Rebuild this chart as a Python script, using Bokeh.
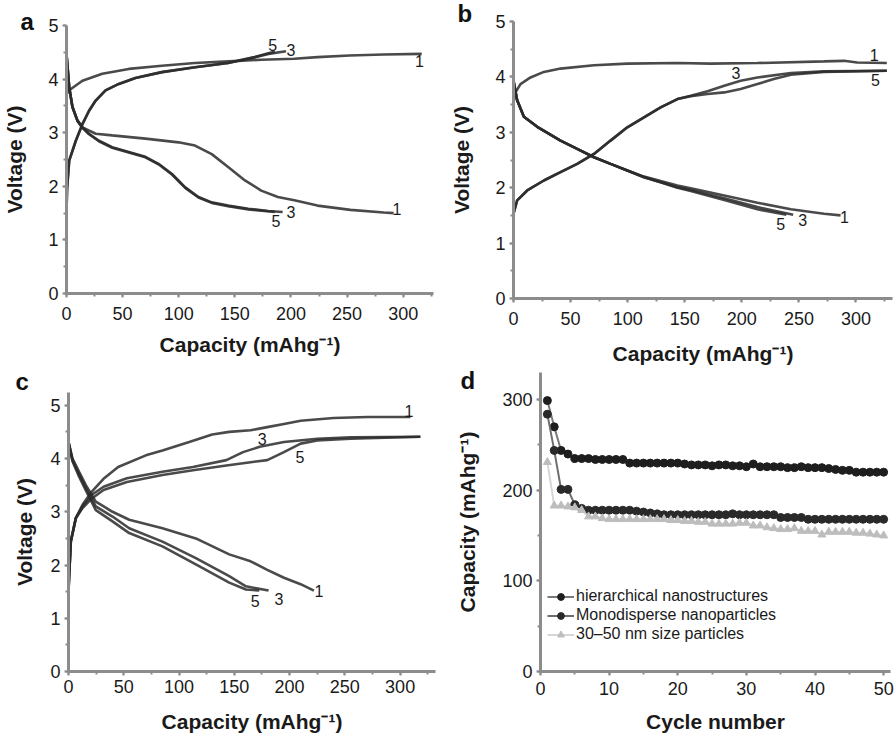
from bokeh.plotting import figure
from bokeh.models import Range1d, Legend, LegendItem, SingleIntervalTicker, Title
from bokeh.layouts import column, row
from bokeh.embed import file_html
from bokeh.resources import INLINE
from bokeh.core.properties import value

FONT = "Liberation Sans"
LINE = "#2a2a2a"

# ---------------- Panel a ----------------
a_ch1_x = [0, 3, 14.2, 31.9, 55.5, 85, 114.5, 144, 173.5, 203, 223.6, 252, 282.6, 316.5]
a_ch1_y = [3.72, 3.8, 3.97, 4.1, 4.19, 4.25, 4.3, 4.33, 4.36, 4.38, 4.41, 4.44, 4.46, 4.47]
a_ch3_x = [0, 0.5, 2.4, 8.3, 14.2, 20.1, 26, 34.8, 46.6, 61.4, 85, 114.5, 144, 156, 168, 180, 195.6]
a_ch3_y = [1.5, 1.95, 2.48, 2.85, 3.16, 3.41, 3.6, 3.79, 3.91, 4.02, 4.13, 4.22, 4.3, 4.35, 4.41, 4.47, 4.52]
a_ch5_x = [0, 0.5, 2.4, 8.3, 14.2, 20.1, 26, 34.8, 46.6, 61.4, 85, 114.5, 144, 156, 168, 179.7, 185.6]
a_ch5_y = [1.5, 1.95, 2.48, 2.85, 3.16, 3.41, 3.6, 3.79, 3.91, 4.02, 4.13, 4.22, 4.3, 4.36, 4.41, 4.48, 4.51]
a_dc1_x = [0, 2.4, 5.3, 9.7, 14.2, 26, 40.7, 70.3, 99.8, 114.5, 129.4, 144, 159, 173.5, 188.3, 203, 223.6, 253, 282.6, 291.5]
a_dc1_y = [4.47, 3.85, 3.48, 3.23, 3.1, 2.98, 2.95, 2.89, 2.82, 2.76, 2.6, 2.36, 2.11, 1.92, 1.8, 1.74, 1.64, 1.56, 1.51, 1.5]
a_dc3_x = [0, 2.4, 5.3, 9.7, 14.2, 20.1, 28.9, 40.7, 55.5, 70.3, 82, 94, 105.8, 117.6, 129.4, 144, 162, 179.7, 192.6]
a_dc3_y = [4.47, 3.85, 3.48, 3.23, 3.1, 2.98, 2.85, 2.73, 2.64, 2.55, 2.42, 2.23, 1.98, 1.8, 1.7, 1.64, 1.58, 1.54, 1.52]
a_dc5_x = [0, 2.4, 5.3, 9.7, 14.2, 20.1, 28.9, 40.7, 55.5, 70.3, 82, 94, 105.8, 117.6, 129.4, 144, 162, 185.6]
a_dc5_y = [4.47, 3.85, 3.48, 3.22, 3.09, 2.97, 2.84, 2.72, 2.63, 2.54, 2.41, 2.22, 1.97, 1.79, 1.69, 1.63, 1.57, 1.52]
a_lab_text = ["5", "3", "1", "3", "5", "1"]
a_lab_x = [183.8, 200, 314.4, 200, 186.7, 294.4]
a_lab_y = [4.63, 4.55, 4.33, 1.52, 1.36, 1.58]

# ---------------- Panel b ----------------
b_ch1_x = [0, 1.75, 6.1, 14.9, 26.6, 41.2, 70.5, 99.7, 143.6, 172.8, 213.7, 272, 289.5, 301, 327]
b_ch1_y = [3.55, 3.72, 3.87, 3.99, 4.09, 4.15, 4.21, 4.24, 4.25, 4.24, 4.25, 4.28, 4.29, 4.26, 4.25]
b_ch3_x = [0, 3.2, 12, 26.6, 41.2, 55.8, 70.5, 85, 99.7, 114.3, 128.9, 143.6, 155.3, 170, 184.6, 199, 213.7, 243, 272, 327]
b_ch3_y = [1.53, 1.77, 1.95, 2.13, 2.28, 2.43, 2.61, 2.85, 3.09, 3.27, 3.45, 3.6, 3.66, 3.74, 3.84, 3.93, 3.99, 4.07, 4.1, 4.11]
b_ch5_x = [0, 3.2, 12, 26.6, 41.2, 55.8, 70.5, 85, 99.7, 114.3, 128.9, 143.6, 155.3, 170, 184.6, 199, 213.7, 228, 243, 272, 327]
b_ch5_y = [1.53, 1.77, 1.95, 2.13, 2.28, 2.43, 2.61, 2.85, 3.09, 3.27, 3.45, 3.6, 3.65, 3.69, 3.72, 3.78, 3.87, 3.96, 4.04, 4.09, 4.11]
b_dc1_x = [0, 3.2, 9.1, 20.8, 41.2, 55.8, 70.5, 85, 99.7, 114.3, 128.9, 143.6, 155.3, 184.6, 213.7, 243, 272, 286.5]
b_dc1_y = [3.93, 3.58, 3.28, 3.1, 2.85, 2.7, 2.55, 2.43, 2.31, 2.2, 2.12, 2.04, 1.99, 1.86, 1.73, 1.61, 1.53, 1.5]
b_dc3_x = [0, 3.2, 9.1, 20.8, 41.2, 55.8, 70.5, 85, 99.7, 114.3, 128.9, 143.6, 155.3, 184.6, 213.7, 245]
b_dc3_y = [3.93, 3.58, 3.28, 3.1, 2.85, 2.7, 2.55, 2.43, 2.31, 2.19, 2.1, 2.01, 1.96, 1.81, 1.65, 1.51]
b_dc5_x = [0, 3.2, 9.1, 20.8, 41.2, 55.8, 70.5, 85, 99.7, 114.3, 128.9, 143.6, 155.3, 184.6, 213.7, 239]
b_dc5_y = [3.93, 3.58, 3.28, 3.1, 2.85, 2.7, 2.55, 2.43, 2.31, 2.19, 2.1, 2.0, 1.94, 1.78, 1.61, 1.51]
b_lab_text = ["1", "3", "5", "5", "3", "1"]
b_lab_x = [316, 194.8, 317, 234, 253.3, 290]
b_lab_y = [4.4, 4.07, 3.95, 1.35, 1.41, 1.47]

# ---------------- Panel c ----------------
c_ch1_x = [0, 0.5, 2.1, 6.6, 12.7, 21.1, 31.7, 44.9, 70, 85, 109.2, 130, 145.4, 164.7, 179.8, 194.9, 210, 240, 270.5, 309.4]
c_ch1_y = [1.5, 1.76, 2.44, 2.88, 3.13, 3.38, 3.62, 3.84, 4.06, 4.15, 4.31, 4.45, 4.5, 4.53, 4.59, 4.65, 4.71, 4.76, 4.78, 4.78]
c_ch3_x = [0, 0.5, 2.1, 6.6, 12.7, 21.1, 31.7, 52.8, 85, 112.6, 142.8, 157.9, 173, 194.9, 225, 255.1, 318.3]
c_ch3_y = [1.5, 1.76, 2.44, 2.88, 3.1, 3.32, 3.47, 3.63, 3.75, 3.84, 3.97, 4.12, 4.22, 4.31, 4.37, 4.4, 4.41]
c_ch5_x = [0, 0.5, 2.1, 6.6, 12.7, 21.1, 31.7, 52.8, 85, 112.6, 142.8, 164.7, 179.8, 194.9, 210, 225, 255, 318.3]
c_ch5_y = [1.5, 1.76, 2.44, 2.88, 3.07, 3.25, 3.41, 3.56, 3.69, 3.78, 3.87, 3.93, 3.97, 4.12, 4.28, 4.34, 4.37, 4.41]
c_dc1_x = [0, 3.6, 9.6, 15.7, 24.7, 39.8, 54.9, 85, 115.2, 145.4, 164.7, 179.8, 194.9, 210, 222]
c_dc1_y = [4.31, 4.0, 3.75, 3.5, 3.19, 3.0, 2.85, 2.69, 2.5, 2.2, 2.07, 1.91, 1.76, 1.64, 1.52]
c_dc3_x = [0, 3.6, 9.6, 15.7, 24.7, 39.8, 54.9, 85, 115.2, 145.4, 160.5, 181]
c_dc3_y = [4.31, 3.97, 3.7, 3.45, 3.1, 2.91, 2.69, 2.44, 2.13, 1.79, 1.6, 1.52]
c_dc5_x = [0, 3.6, 9.6, 15.7, 24.7, 39.8, 54.9, 85, 115.2, 145.4, 160.5, 172.6]
c_dc5_y = [4.31, 3.95, 3.66, 3.4, 3.03, 2.82, 2.6, 2.35, 2.01, 1.67, 1.54, 1.52]
c_lab_text = ["1", "3", "5", "1", "3", "5"]
c_lab_x = [307.9, 175.3, 209.3, 226.5, 190.3, 169]
c_lab_y = [4.9, 4.37, 4.03, 1.52, 1.36, 1.32]

# ---------------- Panel d ----------------
cycles = list(range(1, 51))
hier = [299, 270, 244, 240, 235, 235, 235, 234, 234, 234,
        234, 234, 230, 230, 230, 230, 230, 230, 230, 230,
        229, 228, 228, 228, 227, 228, 228, 227, 227, 226,
        229, 226, 226, 226, 226, 225, 225, 226, 225, 225,
        225, 224, 223, 222, 222, 220, 220, 220, 220, 220]
mono = [284, 244, 201, 201, 184, 180, 178, 178, 178, 178,
        178, 178, 178, 177, 176, 175, 174, 173, 173, 173,
        173, 173, 173, 173, 173, 173, 173, 174, 173, 173,
        173, 173, 173, 173, 170, 170, 170, 170, 168, 168,
        168, 168, 168, 168, 168, 168, 168, 168, 168, 168]
small = [231, 183, 183, 182, 181, 178, 171, 171, 169, 168,
         168, 168, 168, 168, 168, 168, 168, 168, 167, 167,
         166, 166, 165, 165, 163, 163, 163, 163, 164, 164,
         161, 161, 159, 158, 157, 157, 158, 155, 155, 155,
         151, 154, 154, 154, 154, 153, 153, 152, 151, 150]
d_names = ["hierarchical nanostructures", "Monodisperse nanoparticles", "30\u201350 nm size particles"]

XLAB = "Capacity (mAhg\u207b\u00b9)"


def make_fig(w, h, left, right, top, bottom, xr, yr, xlabel, ylabel, xstep, ystep,
             xlstand=4, xstand=10, ystand=19):
    p = figure(width=w, height=h, output_backend="svg", toolbar_location=None,
               x_range=Range1d(*xr), y_range=Range1d(*yr),
               min_border_left=left, min_border_right=right,
               min_border_top=top, min_border_bottom=bottom)
    p.outline_line_color = None
    p.grid.visible = False
    p.background_fill_color = "white"
    p.border_fill_color = "white"
    p.xaxis.ticker = SingleIntervalTicker(interval=xstep, num_minor_ticks=2)
    p.yaxis.ticker = SingleIntervalTicker(interval=ystep, num_minor_ticks=2)
    for ax in (p.xaxis[0], p.yaxis[0]):
        ax.axis_line_color = "#8c8c8c"
        ax.axis_line_width = 3
        ax.major_tick_line_color = "#8c8c8c"
        ax.minor_tick_line_color = "#8c8c8c"
        ax.major_tick_line_width = 2
        ax.minor_tick_line_width = 2
        ax.major_tick_in = 0
        ax.major_tick_out = 4
        ax.minor_tick_in = 0
        ax.minor_tick_out = 3
        ax.major_label_text_font = FONT
        ax.major_label_text_font_size = "18px"
        ax.major_label_text_color = "#1a1a1a"
        ax.major_label_standoff = 4
        ax.axis_label_text_font = FONT
        ax.axis_label_text_font_size = "21px"
        ax.axis_label_text_font_style = "bold"
        ax.axis_label_text_color = "#1a1a1a"
    p.xaxis.axis_label = xlabel
    p.yaxis.axis_label = ylabel
    p.xaxis.major_label_standoff = xlstand
    p.xaxis.axis_label_standoff = xstand
    p.yaxis.axis_label_standoff = ystand
    return p


def panel_letter(p, letter, offset, standoff):
    p.add_layout(Title(text=letter, align="left", offset=offset, standoff=standoff,
                       text_font=FONT, text_font_size="24px", text_font_style="bold",
                       text_color="#111111"), "above")


def curves(p, pairs, labx, laby, labt):
    for xs, ys in pairs:
        p.line(xs, ys, line_color=LINE, line_width=2.6, line_alpha=0.85)
    p.text(labx, laby, text=labt, text_font=value(FONT), text_font_size="16px",
           text_align="center", text_baseline="middle", text_color="#1a1a1a")


pa = make_fig(447, 367, 64, 14, 25, 74, (0, 327), (0, 5), XLAB, "Voltage (V)", 50, 1,
              xlstand=9, xstand=10)
curves(pa, [(a_ch1_x, a_ch1_y), (a_ch3_x, a_ch3_y), (a_ch5_x, a_ch5_y),
            (a_dc1_x, a_dc1_y), (a_dc3_x, a_dc3_y), (a_dc5_x, a_dc5_y)],
       a_lab_x, a_lab_y, a_lab_text)
panel_letter(pa, "a", -46, -18)

pb = make_fig(447, 367, 66, 2, 21, 69, (0, 332), (0, 5), XLAB, "Voltage (V)", 50, 1,
              xlstand=9, xstand=14)
curves(pb, [(b_ch1_x, b_ch1_y), (b_ch3_x, b_ch3_y), (b_ch5_x, b_ch5_y),
            (b_dc1_x, b_dc1_y), (b_dc3_x, b_dc3_y), (b_dc5_x, b_dc5_y)],
       b_lab_x, b_lab_y, b_lab_text)
panel_letter(pb, "b", -56, -10)

pc = make_fig(447, 368, 68, 12, 23, 64, (0, 332), (0, 5.24), XLAB, "Voltage (V)", 50, 1,
              xlstand=4, xstand=14, ystand=11)
curves(pc, [(c_ch1_x, c_ch1_y), (c_ch3_x, c_ch3_y), (c_ch5_x, c_ch5_y),
            (c_dc1_x, c_dc1_y), (c_dc3_x, c_dc3_y), (c_dc5_x, c_dc5_y)],
       c_lab_x, c_lab_y, c_lab_text)
panel_letter(pc, "c", -53, -4)

pd = make_fig(447, 368, 93, 4, 5, 64, (0, 51), (0, 330), "Cycle number", XLAB, 10, 100,
              xlstand=6, xstand=12, ystand=20)
items = []
styles = [(hier, "#7a7a7a", "#1e1e1e", "circle"),
          (mono, "#6e6e6e", "#2a2a2a", "circle"),
          (small, "#d6d6d6", "#bdbdbd", "triangle")]
for (vals, lc, mc, mk), name in zip(styles, d_names):
    lr = pd.line(cycles, vals, line_color=lc, line_width=2)
    sr = pd.scatter(cycles, vals, marker=mk, size=8, fill_color=mc, line_color=mc)
    items.append(LegendItem(label=name, renderers=[lr, sr]))
leg = Legend(items=items, location=(7, 28), background_fill_alpha=0, border_line_alpha=0,
             padding=0, margin=0, spacing=1, glyph_height=17, label_height=17, glyph_width=27,
             label_standoff=2, label_text_font=FONT, label_text_font_size="16px",
             label_text_color="#1a1a1a")
pd.add_layout(leg)
panel_letter(pd, "d", -80, -42)

layout = column(row(column(pa), column(pb)), row(column(pc), column(pd)))
open("out.html", "w").write(file_html(layout, INLINE))
